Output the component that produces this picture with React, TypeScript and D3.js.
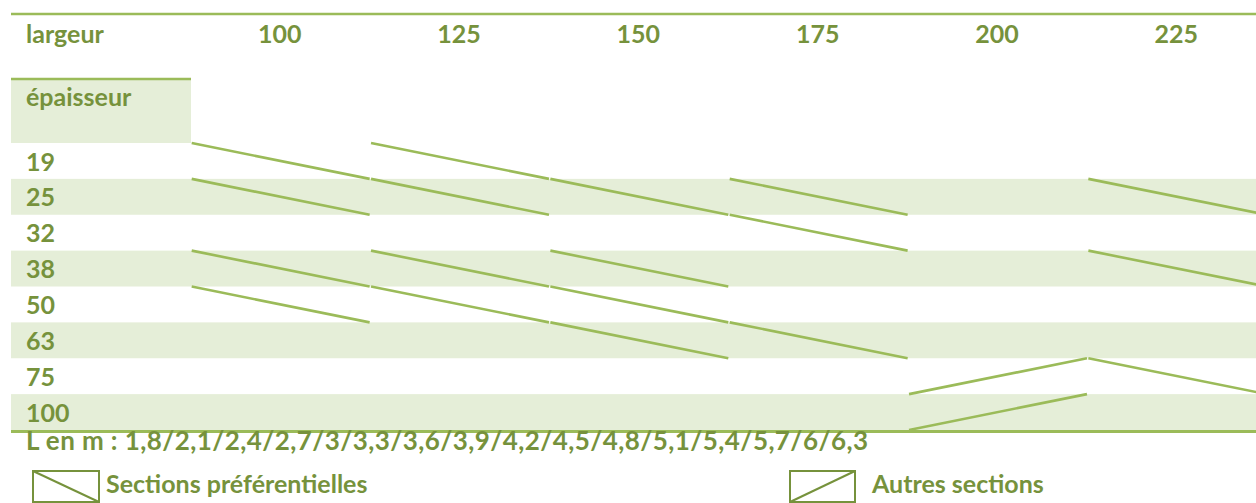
import React from 'react';
import * as d3 from 'd3';

// largeur (mm) en colonnes, épaisseur (mm) en lignes
const widths = ["100", "125", "150", "175", "200", "225"];
const thicknesses = ["19", "25", "32", "38", "50", "63", "75", "100"];

// sections préférentielles : [épaisseur, largeur]
const preferred = [
    ["19", "100"], ["19", "125"],
    ["25", "100"], ["25", "125"], ["25", "150"], ["25", "175"], ["25", "225"],
    ["32", "175"],
    ["38", "100"], ["38", "125"], ["38", "150"], ["38", "225"],
    ["50", "100"], ["50", "125"], ["50", "150"],
    ["63", "150"], ["63", "175"],
    ["75", "225"],
];

// autres sections
const others = [
    ["75", "200"],
    ["100", "200"],
];

const lengths = ["1,8", "2,1", "2,4", "2,7", "3", "3,3", "3,6", "3,9", "4,2", "4,5", "4,8", "5,1", "5,4", "5,7", "6", "6,3"];

const W = 1256;
const H = 503;
const lineColor = "#9BBB59";
const textColor = "#76923C";
const bandColor = "#E5EED8";
const font = "Lato, 'Open Sans', sans-serif";

export default function App() {
    const left = 11;
    const x = d3.scaleBand().domain(widths).range([191, 1267]);
    const y = d3.scaleBand().domain(thicknesses).range([143, 430]);

    const cellLine = (t, w, up) => {
        const x0 = x(w) + 0.7;
        const x1 = x(w) + x.bandwidth() - 0.7;
        const y0 = y(t);
        const y1 = y(t) + y.bandwidth();
        return up ? `M${x0},${y1}L${x1},${y0}` : `M${x0},${y0}L${x1},${y1}`;
    };

    const textStyle = { fontFamily: font, fontWeight: 700, fontSize: 25, fill: textColor };

    return (
        <svg width={W} height={H} style={{ position: "absolute", left: 0, top: 0, display: "block" }}>
            {/* bandes vertes une ligne sur deux */}
            {thicknesses.map((t, i) => i % 2 === 1 &&
                <rect key={t} x={left} y={y(t)} width={W - left} height={y.bandwidth()} fill={bandColor} />
            )}
            {/* case épaisseur */}
            <rect x={left} y={80} width={191 - left} height={y.range()[0] - 80} fill={bandColor} />
            <line x1={left} x2={191} y1={79} y2={79} stroke={lineColor} strokeWidth={2.6} />

            {/* filets haut et bas */}
            <line x1={left} x2={W} y1={14} y2={14} stroke={lineColor} strokeWidth={2.6} />
            <line x1={left} x2={W} y1={431.5} y2={431.5} stroke={lineColor} strokeWidth={3} />

            {/* en-tête */}
            <text x={26} y={43} style={textStyle}>largeur</text>
            {widths.map(w =>
                <text key={w} x={x(w) + x.bandwidth() / 2 - 1} y={43} textAnchor="middle" style={textStyle}>{w}</text>
            )}
            <text x={26} y={106} style={textStyle}>épaisseur</text>
            {thicknesses.map(t =>
                <text key={t} x={26} y={y(t) + 27.5} style={textStyle}>{t}</text>
            )}

            {/* diagonales */}
            {preferred.map(([t, w]) =>
                <path key={"p" + t + w} d={cellLine(t, w, false)} stroke={lineColor} strokeWidth={2.6} fill="none" />
            )}
            {others.map(([t, w]) =>
                <path key={"o" + t + w} d={cellLine(t, w, true)} stroke={lineColor} strokeWidth={2.6} fill="none" />
            )}

            <text x={26} y={450} textLength={842} lengthAdjust="spacing" style={{ ...textStyle, fontSize: 26 }}>
                {"L en m : " + lengths.join("/")}
            </text>

            {/* légende */}
            <rect x={33} y={471} width={66} height={31} fill="none" stroke={textColor} strokeWidth={2} />
            <line x1={33} y1={471} x2={99} y2={502} stroke={textColor} strokeWidth={2} />
            <text x={106} y={493} style={textStyle}>Sections préférentielles</text>

            <rect x={790} y={471} width={65} height={31} fill="none" stroke={textColor} strokeWidth={2} />
            <line x1={790} y1={502} x2={855} y2={471} stroke={textColor} strokeWidth={2} />
            <text x={872} y={493} style={textStyle}>Autres sections</text>
        </svg>
    );
}
